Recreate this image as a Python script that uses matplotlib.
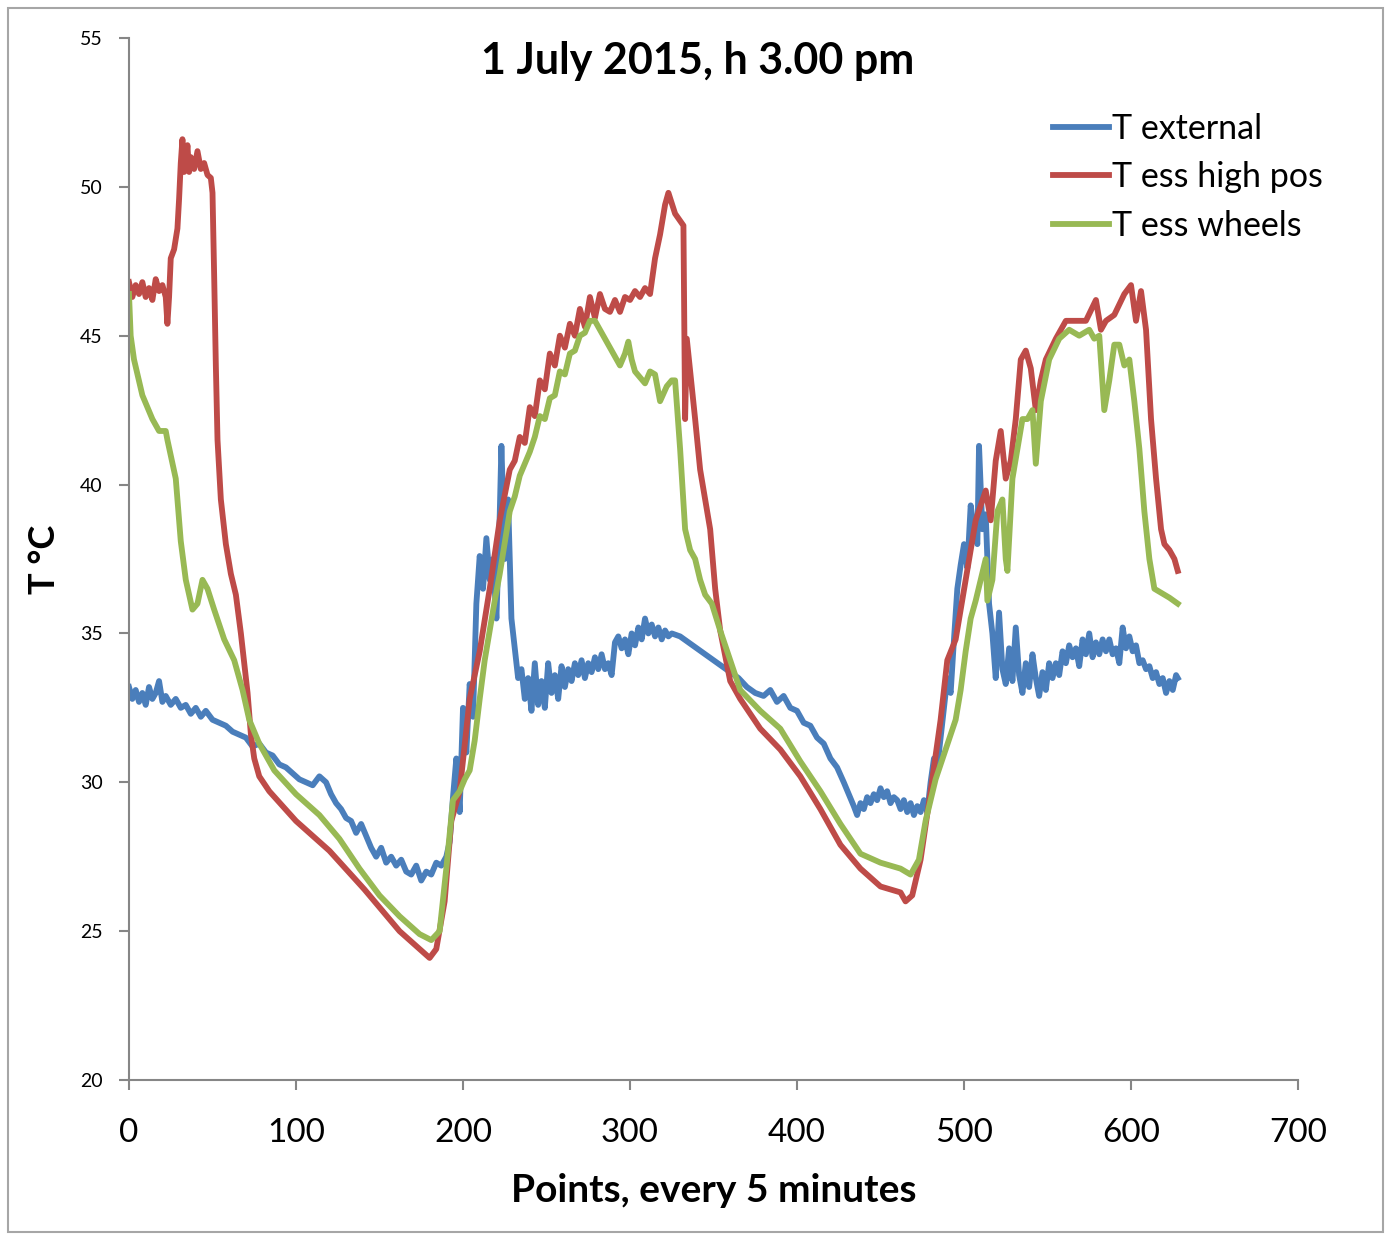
import matplotlib
matplotlib.use('Agg')
import matplotlib.pyplot as plt
from matplotlib.patches import Rectangle

# T external (blue)
ext_x = [0, 2, 4, 6, 8, 10, 12, 14, 16, 18, 20, 22, 25, 28, 31, 34, 37, 40, 43, 46,
         50, 54, 58, 62, 66, 70, 74, 78, 82, 86, 90, 94, 98, 102, 106, 110, 114, 118,
         121, 124, 127, 130, 133, 136, 139, 142, 145, 148, 151, 154, 157, 160, 163, 166,
         169, 172, 175, 178, 181, 184, 187, 190, 192, 194, 196, 198, 200, 202, 204, 206,
         208, 210, 212, 214, 216, 218, 220, 222, 223, 225, 227, 229, 231, 233, 235, 237,
         239, 241, 243, 245, 247, 249, 251, 253, 255, 257, 259, 261, 263, 265, 267, 269,
         271, 273, 275, 277, 279, 281, 283, 285, 287, 289, 291, 293, 295, 297, 299, 301,
         303, 305, 307, 309, 311, 313, 315, 317, 319, 321, 323, 325, 330, 335, 340, 345,
         350, 355, 360, 365, 370, 375, 380, 384, 388, 392, 396, 400, 404, 408, 412, 416,
         420, 424, 428, 431, 434, 436, 438, 440, 442, 444, 446, 448, 450, 452, 454, 456,
         458, 460, 462, 464, 466, 468, 470, 472, 474, 476, 478, 480, 482, 484, 486, 488,
         490, 492, 494, 496, 498, 500, 502, 504, 506, 508, 509, 511, 513, 515, 517, 519,
         521, 523, 525, 527, 529, 531, 533, 535, 537, 539, 541, 543, 545, 547, 549, 551,
         553, 555, 557, 559, 561, 563, 565, 567, 569, 571, 573, 575, 577, 579, 581, 583,
         585, 587, 589, 591, 593, 595, 597, 599, 601, 603, 605, 607, 609, 611, 613, 615,
         617, 619, 621, 623, 625, 627, 628]
ext_t = [33.2, 32.8, 33.1, 32.7, 33.0, 32.6, 33.2, 32.8, 33.0, 33.4, 32.7, 32.9, 32.6, 32.8, 32.5, 32.6, 32.3, 32.5, 32.2, 32.4,
         32.1, 32.0, 31.9, 31.7, 31.6, 31.5, 31.2, 31.3, 31.0, 30.9, 30.6, 30.5, 30.3, 30.1, 30.0, 29.9, 30.2, 30.0,
         29.6, 29.3, 29.1, 28.8, 28.7, 28.3, 28.6, 28.2, 27.8, 27.5, 27.8, 27.3, 27.5, 27.2, 27.4, 27.0,
         26.9, 27.2, 26.7, 27.0, 26.9, 27.3, 27.2, 27.5, 28.0, 29.5, 30.8, 29.0, 32.5, 31.0, 33.3, 32.2,
         36.0, 37.6, 36.5, 38.2, 36.8, 37.5, 35.5, 39.0, 41.3, 37.5, 39.5, 35.5, 34.5, 33.5, 33.8, 32.8,
         33.5, 32.4, 34.0, 32.6, 33.4, 32.5, 34.0, 33.0, 33.6, 32.8, 33.9, 33.2, 33.8, 33.4, 34.0, 33.6,
         34.1, 33.5, 34.0, 33.7, 34.2, 33.8, 34.3, 33.8, 34.0, 33.6, 34.7, 34.9, 34.5, 34.8, 34.3, 35.0,
         34.6, 35.2, 34.8, 35.5, 35.0, 35.3, 34.9, 35.2, 34.8, 35.1, 34.9, 35.0, 34.9, 34.7, 34.5, 34.3,
         34.1, 33.9, 33.7, 33.5, 33.2, 33.0, 32.9, 33.1, 32.7, 32.9, 32.5, 32.4, 32.0, 31.9, 31.5, 31.3,
         30.8, 30.5, 30.0, 29.6, 29.2, 28.9, 29.3, 29.1, 29.5, 29.3, 29.6, 29.4, 29.8, 29.5, 29.7, 29.3,
         29.5, 29.4, 29.1, 29.4, 29.0, 29.3, 28.9, 29.2, 29.0, 29.4, 29.0, 30.0, 30.8, 30.5, 31.5, 32.5,
         33.5, 33.0, 34.8, 36.5, 37.3, 38.0, 37.2, 39.3, 38.5, 38.0, 41.3, 38.5, 39.0, 36.0, 35.0, 33.5,
         35.7, 33.8, 33.3, 34.5, 33.4, 35.2, 33.6, 33.0, 34.0, 33.2, 34.3, 33.5, 32.9, 33.7, 33.1, 34.0,
         33.5, 34.0, 33.6, 34.4, 34.0, 34.6, 34.2, 34.5, 33.9, 34.8, 34.3, 35.0, 34.2, 34.7, 34.3, 34.8,
         34.4, 34.8, 34.3, 34.5, 34.0, 35.2, 34.5, 34.9, 34.4, 34.6, 34.0, 34.1, 33.8, 33.9, 33.5, 33.7,
         33.3, 33.5, 33.0, 33.4, 33.1, 33.6, 33.5]

# T ess high pos (red)
high_x = [0, 2, 4, 6, 8, 10, 12, 14, 16, 18, 20, 22, 23, 24, 25, 27, 29, 30, 31, 32,
          33, 34, 35, 36, 37, 39, 41, 43, 45, 47, 49, 50, 51, 52, 53, 55, 58, 61, 64, 67,
          69, 71, 73, 75, 78, 84, 100, 120, 141, 162, 174, 180, 184, 189, 193, 198, 204,
          210, 216, 222, 228, 231, 234, 237, 240, 243, 246, 249, 252, 255, 258, 261, 264,
          267, 270, 273, 276, 279, 282, 285, 288, 291, 294, 297, 300, 303, 306, 309, 312,
          315, 318, 321, 323, 327, 332, 333, 334, 339, 342, 348, 351, 354, 360,
          366, 378, 390, 402, 414, 426, 438, 450, 462, 465, 469, 474, 480, 486, 490, 495,
          501, 507, 513, 516, 519, 522, 525, 528, 531, 534, 537, 540, 543, 546, 549, 555,
          561, 567, 573, 579, 582, 585, 590, 596, 600, 603, 606, 609, 612, 615, 618, 620,
          623, 626, 628]
high_t = [46.8, 46.3, 46.7, 46.4, 46.8, 46.3, 46.6, 46.2, 46.9, 46.5, 46.7, 46.3, 45.4, 46.3, 47.6, 47.9, 48.6, 49.6, 50.8, 51.6,
          50.5, 50.8, 51.4, 50.5, 51.0, 50.6, 51.2, 50.6, 50.8, 50.4, 50.3, 49.8, 47.0, 44.0, 41.5, 39.5, 38.0, 37.0, 36.3, 35.0,
          34.0, 33.0, 31.6, 30.8, 30.2, 29.7, 28.7, 27.7, 26.4, 25.0, 24.4, 24.1, 24.4, 26.0, 28.7, 29.7, 32.8,
          34.4, 36.5, 38.8, 40.5, 40.8, 41.6, 41.4, 42.6, 42.3, 43.5, 43.2, 44.4, 44.0, 45.0, 44.6, 45.4,
          45.0, 45.9, 45.3, 46.3, 45.6, 46.4, 45.9, 45.8, 46.2, 45.8, 46.3, 46.2, 46.5, 46.3, 46.6, 46.4,
          47.6, 48.4, 49.4, 49.8, 49.1, 48.7, 42.2, 44.9, 42.2, 40.5, 38.5, 36.5, 35.1, 33.4,
          32.8, 31.8, 31.1, 30.2, 29.1, 27.9, 27.1, 26.5, 26.3, 26.0, 26.2, 27.4, 29.7, 32.1, 34.1, 34.8,
          36.8, 38.8, 39.8, 38.8, 40.8, 41.8, 40.2, 40.8, 42.2, 44.2, 44.5, 43.9, 42.5, 43.5, 44.2, 44.9,
          45.5, 45.5, 45.5, 46.2, 45.2, 45.5, 45.7, 46.4, 46.7, 45.5, 46.5, 45.2, 42.2, 40.2, 38.5, 38.0,
          37.8, 37.5, 37.1]

# T ess wheels (green)
wheel_x = [0, 1, 3, 8, 14, 18, 22, 23, 28, 31, 34, 38, 41, 44, 47, 51, 57, 63, 68, 72,
           78, 87, 100, 114, 126, 138, 150, 162, 174, 181, 186, 190, 194, 198, 201, 204,
           207, 210, 213, 216, 219, 222, 228, 231, 234, 237, 240, 243, 246, 249, 252, 255,
           258, 261, 264, 267, 270, 273, 276, 279, 282, 285, 288, 291, 294, 297, 299, 301,
           303, 306, 309, 312, 315, 318, 322, 325, 327, 330, 333, 336, 339, 342,
           345, 349, 354, 360, 366, 378, 390, 402, 414, 426, 438, 450, 462, 468, 473, 477,
           483, 489, 495, 498, 501, 504, 507, 510, 513, 514, 517, 520, 523, 525, 526, 529,
           532, 535, 538, 541, 543, 546, 551, 557, 563, 569, 575, 578, 581, 584, 587, 590,
           593, 596, 599, 602, 605, 608, 611, 614, 617, 623, 628]
wheel_t = [46.4, 45.0, 44.2, 43.0, 42.2, 41.8, 41.8, 41.5, 40.2, 38.1, 36.8, 35.8, 36.0, 36.8, 36.5, 35.8, 34.8, 34.1, 33.1, 32.1,
           31.3, 30.4, 29.6, 28.9, 28.1, 27.1, 26.2, 25.5, 24.9, 24.7, 25.0, 27.1, 29.4, 29.7, 30.1, 30.4,
           31.4, 32.8, 34.1, 35.1, 36.1, 37.0, 39.1, 39.6, 40.3, 40.7, 41.1, 41.6, 42.3, 42.2, 42.9, 43.0,
           43.8, 43.7, 44.4, 44.5, 45.0, 45.1, 45.5, 45.5, 45.2, 44.9, 44.6, 44.3, 44.0, 44.4, 44.8, 44.2,
           43.8, 43.6, 43.4, 43.8, 43.7, 42.8, 43.3, 43.5, 43.5, 41.2, 38.5, 37.8, 37.5, 36.8,
           36.3, 36.0, 35.1, 34.1, 33.1, 32.4, 31.8, 30.7, 29.7, 28.6, 27.6, 27.3, 27.1, 26.9, 27.4, 28.7,
           30.1, 31.1, 32.1, 33.1, 34.4, 35.5, 36.1, 36.8, 37.5, 36.1, 36.8, 39.1, 39.5, 37.5, 37.1, 40.2,
           41.2, 42.2, 42.2, 42.5, 40.7, 42.8, 44.2, 44.9, 45.2, 45.0, 45.2, 44.9, 45.0, 42.5, 43.5, 44.7,
           44.7, 44.0, 44.2, 42.8, 41.2, 39.1, 37.5, 36.5, 36.4, 36.2, 36.0]

series = [
    ('T external', ext_x, ext_t, '#4A7EBB'),
    ('T ess high pos', high_x, high_t, '#BE4B48'),
    ('T ess wheels', wheel_x, wheel_t, '#98B954'),
]

plt.rcParams['font.family'] = ['Lato', 'DejaVu Sans']

fig = plt.figure(figsize=(13.85, 12.34), dpi=100)
ax = fig.add_axes([129 / 1385, 1 - 1080 / 1234, (1298 - 129) / 1385, (1080 - 38) / 1234])

for name, xs, ts, col in series:
    ax.plot(xs, ts, color=col, lw=4.2, label=name, solid_joinstyle='round')

ax.set_xlim(0, 700)
ax.set_ylim(20, 55)
ax.set_xticks(range(0, 701, 100))
ax.set_yticks(range(20, 56, 5))

gray = '#868686'
for s in ['top', 'right']:
    ax.spines[s].set_visible(False)
for s in ['left', 'bottom']:
    ax.spines[s].set_color(gray)
    ax.spines[s].set_linewidth(1.5)
ax.tick_params(axis='y', direction='out', length=7, width=1.5, color=gray, labelsize=14, pad=12)
ax.tick_params(axis='x', direction='out', length=7, width=1.5, color=gray, labelsize=24, pad=20)

ax.set_xlabel('Points, every 5 minutes', fontsize=28, fontweight='bold', labelpad=18)
ax.set_ylabel('T °C', fontsize=26, fontweight='bold')
ax.yaxis.set_label_coords(-0.058, 0.5)
ax.text(0.486, 0.997, '1 July 2015, h 3.00 pm', transform=ax.transAxes, ha='center', va='top',
        fontsize=31, fontweight='bold')

ax.legend(loc='upper left', bbox_to_anchor=(0.79, 0.928), frameon=False, fontsize=24.5,
          handlelength=1.65, handletextpad=0.1, labelspacing=0.48, borderpad=0, borderaxespad=0)

fig.patches.append(Rectangle((8 / 1385, 2 / 1234), 1375 / 1385, 1224 / 1234, transform=fig.transFigure,
                             fill=False, edgecolor='#A6A6A6', lw=1.5))

fig.savefig('out.png', dpi=100)
